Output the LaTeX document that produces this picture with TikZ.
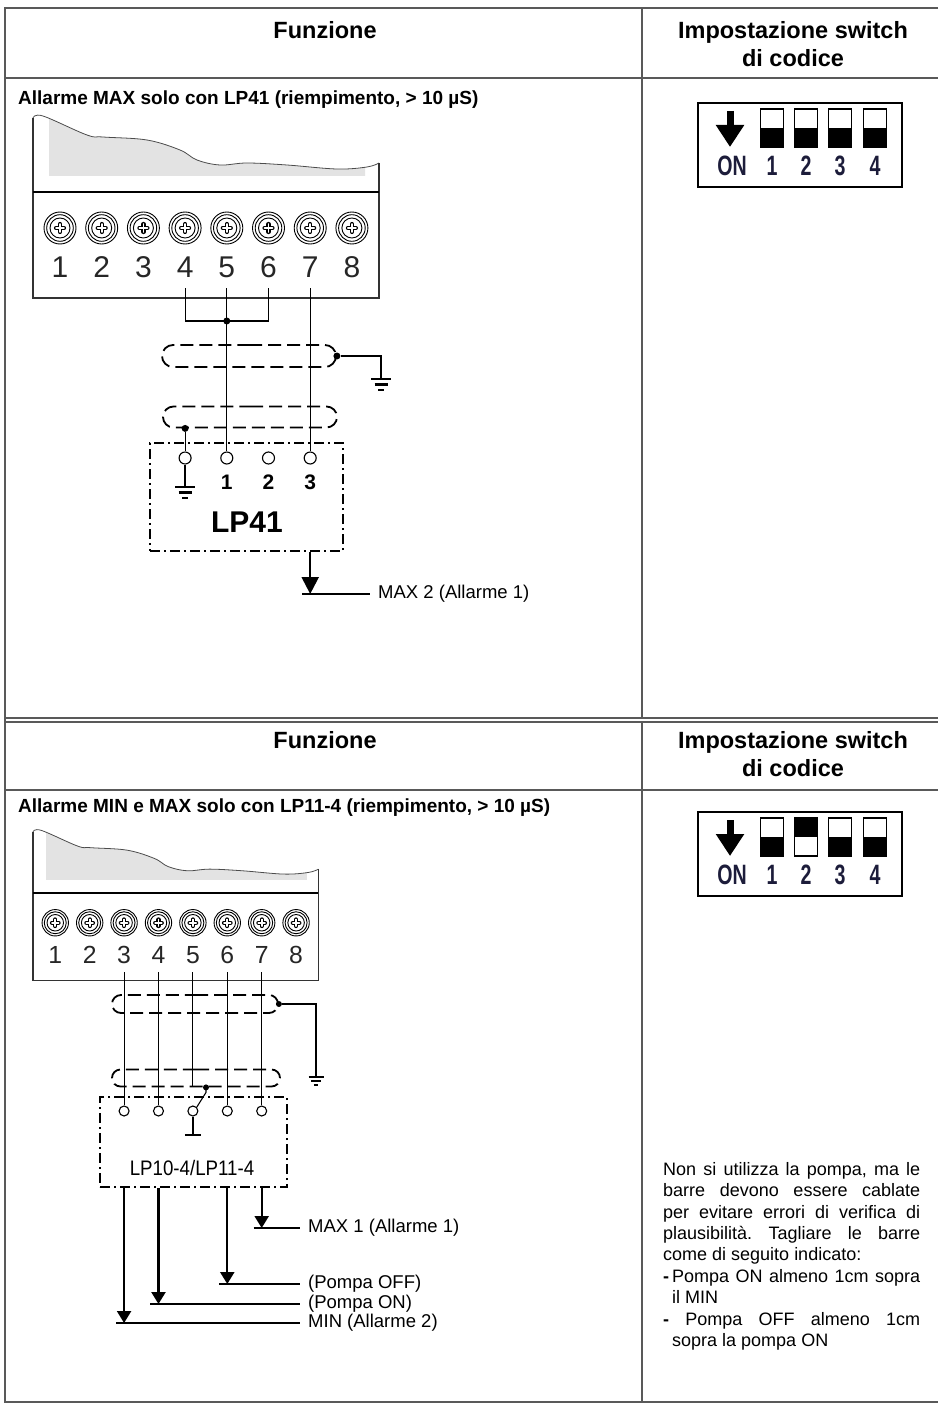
\documentclass[tikz,border=0pt]{standalone}
\usepackage{fontspec}
\setmainfont{Liberation Sans}
\usetikzlibrary{arrows.meta,shapes.misc,positioning}
\definecolor{blu}{HTML}{1C1C3A}

% morsettiera a 8 morsetti, #1 = prefisso dei punti di uscita dei fili
\newcommand{\morsettiera}[1]{%
  \begin{scope}
    \clip (16,-5) rectangle (332,58);
    \fill[black!11] plot[smooth,tension=0.6] coordinates {(0,0) (10,-2) (54,17) (70,19) (114,22) (147,32) (164,42) (187,47) (214,45) (254,47) (304,51) (334,49) (346,45)} -- (346,60) -- (0,60) -- cycle;
  \end{scope}
  \draw[black!70,line width=0.8pt] plot[smooth,tension=0.6] coordinates {(0,0) (10,-2) (54,17) (70,19) (114,22) (147,32) (164,42) (187,47) (214,45) (254,47) (304,51) (334,49) (346,45)};
  \draw[black!80,line width=1.6pt] (0,0) -- (0,180) -- (346,180) -- (346,45);
  \draw[line width=2.8pt] (0,74) -- (346,74);
  \foreach \n in {1,...,8} {
    \pgfmathsetmacro\xx{27+41.7*(\n-1)}
    \draw[line width=0.9pt] (\xx,110) circle[radius=16] (\xx,110) circle[radius=13.3] (\xx,110) circle[radius=10];
    \draw[line width=4.2pt,line cap=round] (\xx-4,110) -- (\xx+4,110) (\xx,106) -- (\xx,114);
    \draw[white,line width=1.8pt,line cap=round] (\xx-4,110) -- (\xx+4,110) (\xx,106) -- (\xx,114);
    \node[text=black!85,font=\fontsize{30}{30}\selectfont,transform shape] (#1n\n) at (\xx,149) {\n};
    \coordinate (#1\n) at (\xx,170);
  }}

% switch di codice, #1 = switch su ON (0 = nessuno)
\newcommand{\codeswitch}[1]{%
  \draw[line width=2pt] (698,103) rectangle (902,187);
  \draw[line width=7pt,-{Triangle[width=27pt,length=22pt]}] (730,111) -- (730,147);
  \node[font=\bfseries\fontsize{28}{28}\selectfont,text=blu,xscale=0.7] (on#1) at (732,166) {ON};
  \foreach \k/\xs in {1/772,2/806,3/840,4/875} {
    \ifnum\k=#1
      \fill (\xs-11.5,109) rectangle (\xs+11.5,128);
    \else
      \fill (\xs-11.5,128) rectangle (\xs+11.5,147);
    \fi
    \draw[line width=1.8pt] (\xs-11.5,109) rectangle (\xs+11.5,147);
    \node[font=\bfseries\fontsize{28}{28}\selectfont,text=blu,xscale=0.7] (k#1\k) at (\xs,166) {\k};
  }}

% simbolo di terra
\newcommand{\massa}[2][1]{%
  \begin{scope}[shift={(#2)},scale=#1]
    \draw[line width=2.2pt] (-10,0) -- (10,0) (-6.5,5.5) -- (6.5,5.5) (-3,11) -- (3,11);
  \end{scope}}

\begin{document}
\begin{tikzpicture}[x=1pt,y=-1pt,
  rigo/.style={draw=black!65,line width=1.2pt},
  titolo/.style={font=\bfseries\fontsize{23.5}{28}\selectfont,align=center},
  filo/.style={line width=1.1pt},
  schermo/.style={draw,rounded rectangle,dash pattern=on 13pt off 6pt,line width=1.8pt,inner sep=0pt},
  scatola/.style={draw,dash pattern=on 10pt off 4pt on 2pt off 4pt,line width=1.6pt,inner sep=0pt},
  morsetto/.style={draw,circle,line width=1.1pt,minimum size=12pt,inner sep=0pt},
  punto/.style={circle,fill,inner sep=0pt,minimum size=7pt},
  uscita/.style={line width=2.3pt,-{Triangle[width=17pt,length=17pt]}},
  uscitab/.style={line width=2.3pt,-{Triangle[width=14pt,length=12pt]}},
  etichetta/.style={anchor=west,font=\fontsize{18.5}{20}\selectfont,inner xsep=8pt,inner ysep=0pt}]
\useasboundingbox (0,0) rectangle (938,1415);

% tabella
\draw[rigo] (938,8) -- (5,8) -- (5,1402) -- (938,1402);
\draw[rigo] (5,78) -- (938,78) (5,718) -- (938,718) (5,722) -- (938,722) (5,790) -- (938,790);
\draw[rigo] (642,8) -- (642,718) (642,722) -- (642,1402);

\node[titolo] (F1) at (325,30) {Funzione};
\node[titolo] (I1) at (793,44) {Impostazione switch\\di codice};
\node[titolo] (F2) at (325,740) {Funzione};
\node[titolo] (I2) at (793,754) {Impostazione switch\\di codice};

\node[anchor=west,inner sep=0pt,font=\bfseries\fontsize{19}{20}\selectfont] (T1) at (18,100) {Allarme MAX solo con LP41 (riempimento, > 10 µS)};
\node[anchor=west,inner sep=0pt,font=\bfseries\fontsize{19}{20}\selectfont] (T2) at (18,808) {Allarme MIN e MAX solo con LP11-4 (riempimento, > 10 µS)};

\codeswitch{0}
\begin{scope}[shift={(0,709)}]
  \codeswitch{2}
\end{scope}

% sezione 1: LP41
\begin{scope}[shift={(33,118)}]
  \morsettiera{a}
\end{scope}

\coordinate (ponte) at (0,321);
\draw[filo] (a4) -- (a4 |- ponte) -- (a6 |- ponte) -- (a6);
\node[punto] (G) at (a5 |- ponte) {};

\node[schermo,minimum width=174pt,minimum height=22pt] (S1) at (249,356) {};
\node[schermo,minimum width=174pt,minimum height=21pt] (S2) at (250,417) {};
\node[scatola,minimum width=193pt,minimum height=108pt] (B1) at (246.5,497) {};

\coordinate (liv1) at (0,458);
\node[morsetto] (C0) at (a4 |- liv1) {};
\node[morsetto] (C1) at (a5 |- liv1) {};
\node[morsetto] (C2) at (a6 |- liv1) {};
\node[morsetto] (C3) at (a7 |- liv1) {};
\draw[filo] (a5) -- (C1);
\draw[filo] (a7) -- (C3);

\node[punto] (D1) at (S1.east) {};
\coordinate (M1) at (381,379);
\draw[line width=2pt] (D1) -| (M1);
\massa{M1}

\node[punto] (D2) at (a4 |- S2.south) {};
\draw[filo] (D2) -- (C0);
\coordinate (M0) at (a4 |- 0,487);
\draw[line width=2pt] (C0) -- (M0);
\massa{M0}

\node[font=\bfseries\fontsize{21}{21}\selectfont] (N1) at (a5 |- 0,482) {1};
\node[font=\bfseries\fontsize{21}{21}\selectfont] (N2) at (a6 |- 0,482) {2};
\node[font=\bfseries\fontsize{21}{21}\selectfont] (N3) at (a7 |- 0,482) {3};
\node[font=\bfseries\fontsize{30}{30}\selectfont] (L1) at (247,522) {LP41};

\coordinate (U1) at (a7 |- 0,594);
\draw[uscita] (a7 |- B1.south) -- (U1);
\node[etichetta] (MAXb) at (370,594) {MAX 2 (Allarme 1)};
\draw[line width=2pt] ([xshift=-8pt]U1) -- (MAXb.west);

% sezione 2: LP10-4/LP11-4
\begin{scope}[shift={(33,832)},scale=0.825,transform shape]
  \morsettiera{b}
\end{scope}

\node[schermo,minimum width=166pt,minimum height=18pt] (S3) at (195,1004) {};
\node[schermo,minimum width=168pt,minimum height=17pt] (S4) at (196,1078) {};
\node[scatola,minimum width=187pt,minimum height=90pt] (B2) at (193.5,1142) {};

\coordinate (liv2) at (0,1111);
\node[morsetto,minimum size=10pt] (P3) at (b3 |- liv2) {};
\node[morsetto,minimum size=10pt] (P4) at (b4 |- liv2) {};
\node[morsetto,minimum size=10pt] (P5) at (b5 |- liv2) {};
\node[morsetto,minimum size=10pt] (P6) at (b6 |- liv2) {};
\node[morsetto,minimum size=10pt] (P7) at (b7 |- liv2) {};
\draw[filo] (b3) -- (P3);
\draw[filo] (b4) -- (P4);
\draw[filo] (b5) -- (b5 |- S4.south);
\draw[filo] (b6) -- (P6);
\draw[filo] (b7) -- (P7);

\node[punto,minimum size=6pt] (D3) at (S3.east) {};
\coordinate (M3) at (316,1077);
\draw[line width=2pt] (D3) -| (M3);
\massa[0.75]{M3}

\node[punto,minimum size=6pt] (D4) at ([xshift=10pt]S4.south) {};
\draw[filo] (D4.center) -- ([yshift=-5pt]D4.center) -- (P5.north east);
\coordinate (Z5) at (b5 |- 0,1135);
\draw[line width=1.8pt] (P5) -- (Z5);
\draw[line width=1.8pt] ([xshift=-8pt]Z5) -- ([xshift=8pt]Z5);

\node[font=\fontsize{21}{21}\selectfont,xscale=0.89] (L2) at (192,1168) {LP10-4/LP11-4};

\coordinate (U7) at (b7 |- 0,1228);
\coordinate (U6) at (b6 |- 0,1284);
\coordinate (U4) at (b4 |- 0,1304);
\coordinate (U3) at (b3 |- 0,1323);
\draw[uscitab] (b7 |- B2.south) -- (U7);
\draw[uscitab] (b6 |- B2.south) -- (U6);
\draw[uscitab] (b4 |- B2.south) -- (U4);
\draw[uscitab] (b3 |- B2.south) -- (U3);
\node[etichetta] (MAXa) at (300,1228) {MAX 1 (Allarme 1)};
\node[etichetta] (OFF) at (300,1284) {(Pompa OFF)};
\node[etichetta] (ON) at (300,1304) {(Pompa ON)};
\node[etichetta] (MIN) at (300,1323) {MIN (Allarme 2)};
\draw[line width=2pt] ([xshift=-8pt]U7) -- (MAXa.west);
\draw[line width=2pt] ([xshift=-8pt]U6) -- (OFF.west);
\draw[line width=2pt] ([xshift=-8pt]U4) -- (ON.west);
\draw[line width=2pt] ([xshift=-8pt]U3) -- (MIN.west);

\node[anchor=north west,inner sep=0pt,text width=257pt,align=justify,font=\fontsize{18}{21.4}\selectfont\frenchspacing] (NOTA) at (663,1162)
  {Non si utilizza la pompa, ma le\linebreak barre devono essere cablate\linebreak per evitare errori di verifica di\linebreak plausibilità. Tagliare le barre\linebreak come di seguito indicato:\par
  \leftskip=9pt
  \noindent\hskip-9pt\textbf{-}\,Pompa ON almeno 1cm sopra\linebreak il MIN\par
  \noindent\hskip-9pt\textbf{-} Pompa OFF almeno 1cm\linebreak sopra la pompa ON\par};
\end{tikzpicture}
\end{document}
